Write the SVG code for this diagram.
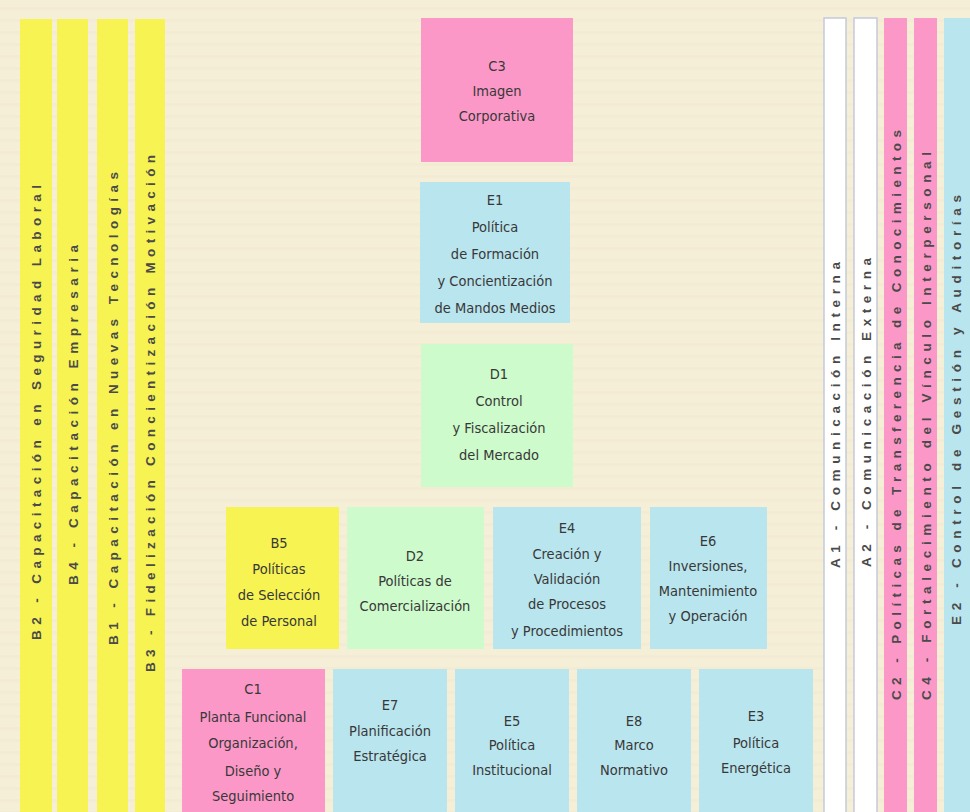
<svg xmlns="http://www.w3.org/2000/svg" width="970" height="812" viewBox="0 0 970 812">
<defs>
<pattern id="stripes" width="10" height="12" patternUnits="userSpaceOnUse">
<rect width="10" height="12" fill="#f5efd8"/>
<rect y="7" width="10" height="3" fill="#efe7cc" opacity="0.45"/>
</pattern>
</defs>
<style>
.y{fill:#f6f352}
.p{fill:#fc98c8}
.b{fill:#b9e5ee}
.g{fill:#cdfbcb}
.w{fill:#ffffff;stroke:#c5cad8;stroke-width:1.5}
.t{font-family:"Liberation Sans Narrow","DejaVu Sans Condensed","Liberation Sans",sans-serif;font-size:14.5px;fill:#383838;text-anchor:middle;font-stretch:condensed}
.v{font-family:"Liberation Sans","DejaVu Sans",sans-serif;font-size:13.5px;font-weight:bold;fill:#4a4a4a}
</style>
<rect width="970" height="812" fill="url(#stripes)"/>

<g id="bar-B2"><rect class="y" x="20" y="19" width="32" height="793"/><text class="v" transform="translate(41,640) rotate(-90)" textLength="455" lengthAdjust="spacing">B2 - Capacitación en Seguridad Laboral</text></g>
<g id="bar-B4"><rect class="y" x="57" y="19" width="31" height="793"/><text class="v" transform="translate(77.5,585) rotate(-90)" textLength="340" lengthAdjust="spacing">B4 - Capacitación Empresaria</text></g>
<g id="bar-B1"><rect class="y" x="97" y="19" width="31" height="793"/><text class="v" transform="translate(117.5,645) rotate(-90)" textLength="473" lengthAdjust="spacing">B1 - Capacitación en Nuevas Tecnologías</text></g>
<g id="bar-B3"><rect class="y" x="135" y="19" width="30" height="793"/><text class="v" transform="translate(155,672) rotate(-90)" textLength="517" lengthAdjust="spacing">B3 - Fidelización Concientización Motivación</text></g>

<g id="bar-A1"><rect class="w" x="824" y="18" width="22" height="800"/><text class="v" transform="translate(840,568) rotate(-90)" textLength="306" lengthAdjust="spacing">A1 - Comunicación Interna</text></g>
<g id="bar-A2"><rect class="w" x="854" y="18" width="23" height="800"/><text class="v" transform="translate(870.5,567) rotate(-90)" textLength="309" lengthAdjust="spacing">A2 - Comunicación Externa</text></g>
<g id="bar-C2"><rect class="p" x="884" y="18" width="23" height="794"/><text class="v" transform="translate(900.5,700) rotate(-90)" textLength="570" lengthAdjust="spacing">C2 - Políticas de Transferencia de Conocimientos</text></g>
<g id="bar-C4"><rect class="p" x="914" y="18" width="23" height="794"/><text class="v" transform="translate(930.5,700) rotate(-90)" textLength="548" lengthAdjust="spacing">C4 - Fortalecimiento del Vínculo Interpersonal</text></g>
<g id="bar-E2"><rect class="b" x="944" y="18" width="30" height="794"/><text class="v" transform="translate(960.5,625) rotate(-90)" textLength="430" lengthAdjust="spacing">E2 - Control de Gestión y Auditorías</text></g>

<g id="C3"><rect class="p" x="421" y="18" width="152" height="144"/>
<text class="t" x="497" y="71">C3</text><text class="t" x="497" y="96">Imagen</text><text class="t" x="497" y="121">Corporativa</text></g>

<g id="E1"><rect class="b" x="420" y="182" width="150" height="141"/>
<text class="t" x="495" y="205">E1</text><text class="t" x="495" y="232">Política</text><text class="t" x="495" y="259">de Formación</text><text class="t" x="495" y="286">y Concientización</text><text class="t" x="495" y="313">de Mandos Medios</text></g>

<g id="D1"><rect class="g" x="421" y="344" width="152" height="143"/>
<text class="t" x="499" y="379">D1</text><text class="t" x="499" y="406">Control</text><text class="t" x="499" y="433">y Fiscalización</text><text class="t" x="499" y="460">del Mercado</text></g>

<g id="B5"><rect class="y" x="226" y="507" width="113" height="142"/>
<text class="t" x="279" y="548">B5</text><text class="t" x="279" y="574">Políticas</text><text class="t" x="279" y="600">de Selección</text><text class="t" x="279" y="626">de Personal</text></g>

<g id="D2"><rect class="g" x="347" y="507" width="137" height="142"/>
<text class="t" x="415" y="561">D2</text><text class="t" x="415" y="586">Políticas de</text><text class="t" x="415" y="611">Comercialización</text></g>

<g id="E4"><rect class="b" x="493" y="507" width="148" height="142"/>
<text class="t" x="567" y="533">E4</text><text class="t" x="567" y="559">Creación y</text><text class="t" x="567" y="584">Validación</text><text class="t" x="567" y="609">de Procesos</text><text class="t" x="567" y="636">y Procedimientos</text></g>

<g id="E6"><rect class="b" x="650" y="507" width="117" height="142"/>
<text class="t" x="708" y="546">E6</text><text class="t" x="708" y="571">Inversiones,</text><text class="t" x="708" y="596">Mantenimiento</text><text class="t" x="708" y="621">y Operación</text></g>

<g id="C1"><rect class="p" x="182" y="669" width="143" height="143"/>
<text class="t" x="253" y="694">C1</text><text class="t" x="253" y="722">Planta Funcional</text><text class="t" x="253" y="748">Organización,</text><text class="t" x="253" y="776">Diseño y</text><text class="t" x="253" y="801">Seguimiento</text></g>

<g id="E7"><rect class="b" x="333" y="669" width="114" height="143"/>
<text class="t" x="390" y="710">E7</text><text class="t" x="390" y="736">Planificación</text><text class="t" x="390" y="761">Estratégica</text></g>

<g id="E5"><rect class="b" x="455" y="669" width="114" height="143"/>
<text class="t" x="512" y="726">E5</text><text class="t" x="512" y="750">Política</text><text class="t" x="512" y="775">Institucional</text></g>

<g id="E8"><rect class="b" x="577" y="669" width="114" height="143"/>
<text class="t" x="634" y="726">E8</text><text class="t" x="634" y="750">Marco</text><text class="t" x="634" y="775">Normativo</text></g>

<g id="E3"><rect class="b" x="699" y="669" width="114" height="143"/>
<text class="t" x="756" y="721">E3</text><text class="t" x="756" y="748">Política</text><text class="t" x="756" y="773">Energética</text></g>

<g id="connectors"></g>
</svg>
